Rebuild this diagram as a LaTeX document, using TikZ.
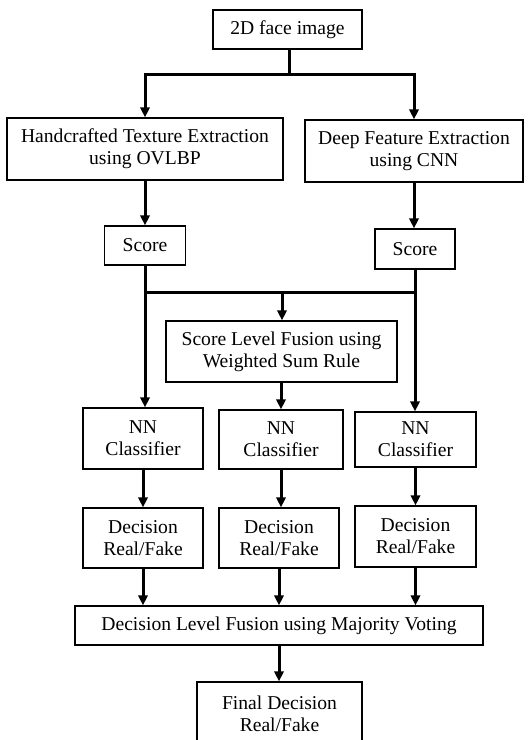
\documentclass[tikz,border=0pt]{standalone}
\usepackage{fontspec}
\setmainfont{Liberation Serif}
\usepackage{tikz}
\usetikzlibrary{shapes,arrows.meta,positioning}

\tikzset{
    box/.style={draw, line width=0.6pt, align=center, inner sep=0pt,
        font=\fontsize{9.8}{11}\selectfont},
    arr/.style={line width=1.5pt, -{Triangle[length=5pt,width=4.6pt]}},
    link/.style={line width=1.5pt}
}

\begin{document}
\begin{tikzpicture}[x=0.5pt,y=-0.5pt]
    \useasboundingbox (0,0) rectangle (528,740);

    % top input and the two feature branches
    \node[box, minimum width=74.5pt, minimum height=19.5pt] (face) at (287.5,29.5) {2D face image};
    \node[box, minimum width=138pt, minimum height=31pt] (hand) at (145,149) {Handcrafted Texture Extraction\\using OVLBP};
    \node[box, minimum width=109pt, minimum height=31pt] (deep) at (414,151) {Deep Feature Extraction\\using CNN};

    \node[box, minimum width=40.5pt, minimum height=19.5pt] (scoreL) at (145,245.5) {Score};
    \node[box, minimum width=40pt, minimum height=20pt] (scoreR) at (415,249) {Score};

    \node[box, minimum width=115.5pt, minimum height=30.5pt] (fusion) at (281.5,351.5) {Score Level Fusion using\\Weighted Sum Rule};

    % classifiers
    \node[box, minimum width=60pt, minimum height=30.5pt] (nnL) at (143,438.5) {NN\\Classifier};
    \node[box, minimum width=62pt, minimum height=29.5pt] (nnM) at (281,439.5) {NN\\Classifier};
    \node[box, minimum width=60.5pt, minimum height=27.5pt] (nnR) at (415.5,439.5) {NN\\Classifier};

    % decisions
    \node[box, minimum width=60pt, minimum height=30pt] (decL) at (143,538) {Decision\\Real/Fake};
    \node[box, minimum width=60pt, minimum height=30pt] (decM) at (279,538) {Decision\\Real/Fake};
    \node[box, minimum width=60.5pt, minimum height=30.5pt] (decR) at (415.5,536.5) {Decision\\Real/Fake};

    \node[box, minimum width=204pt, minimum height=19.5pt] (vote) at (279,625.5) {Decision Level Fusion using Majority Voting};
    \node[box, minimum width=82.5pt, minimum height=32pt] (final) at (279.5,714) {Final Decision\\Real/Fake};

    % split after the input
    \coordinate (split) at (289,74);
    \draw[link] (face.south -| split) -- (split);
    \draw[arr] (split) -| (hand);
    \draw[arr] (split) -| (deep);

    \draw[arr] (hand) -- (scoreL);
    \draw[arr] (deep) -- (deep |- scoreR.north);

    % score merge
    \coordinate (mergeL) at (145,292);
    \coordinate (mergeR) at (415,292);
    \coordinate (mergeM) at (282,292);
    \draw[link] (mergeL) -- (mergeR);
    \draw[arr] (mergeM) -- (mergeM |- fusion.north);

    \draw[arr] (scoreL) -- (scoreL |- nnL.north);
    \draw[arr] (scoreR) -- (scoreR |- nnR.north);
    \draw[arr] (fusion.south -| nnM) -- (nnM);

    \draw[arr] (nnL) -- (decL);
    \draw[arr] (nnM) -- (nnM |- decM.north);
    \draw[arr] (nnR) -- (decR);

    \draw[arr] (decL) -- (decL |- vote.north);
    \draw[arr] (decM) -- (decM |- vote.north);
    \draw[arr] (decR) -- (decR |- vote.north);
    \draw[arr] (vote.south -| decM) -- (decM |- final.north);
\end{tikzpicture}
\end{document}
